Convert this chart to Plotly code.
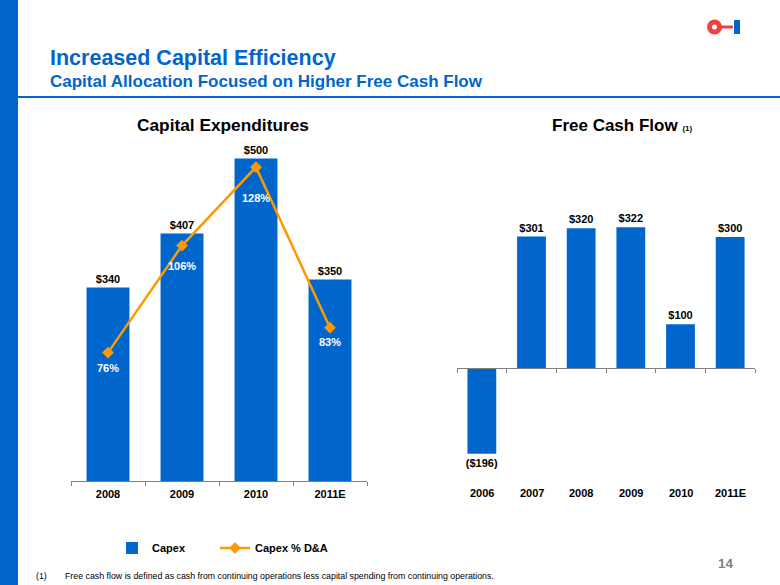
import plotly.graph_objects as go

W, H = 780, 585

# ---- data ----
capex_years = ["2008", "2009", "2010", "2011E"]
capex_values = [340, 407, 500, 350]
capex_pct_da = [76, 106, 128, 83]

fcf_years = ["2006", "2007", "2008", "2009", "2010", "2011E"]
fcf_values = [-196, 301, 320, 322, 100, 300]

# label offsets (style only) for the % labels below the line markers, in px
pct_label_shift = [-15, -20, -31, -14]

BLUE = "#0066CC"
ORANGE = "#FF9900"
FONT = "Liberation Sans, Arial, sans-serif"


def px_x(p):
    return p / W


def px_y(p):
    return 1 - p / H


def money(v):
    return f"(${abs(v)})" if v < 0 else f"${v}"


fig = go.Figure()

fig.add_trace(go.Bar(
    x=capex_years, y=capex_values, name="Capex",
    marker=dict(color=BLUE, line=dict(width=0)),
    text=[money(v) for v in capex_values], textposition="outside",
    constraintext="none",
    textfont=dict(family=FONT, size=11, color="black", weight="bold"),
    cliponaxis=False, xaxis="x", yaxis="y", legendwidth=58,
))
fig.add_trace(go.Scatter(
    x=capex_years, y=capex_pct_da, name="Capex % D&A",
    mode="lines+markers",
    line=dict(color=ORANGE, width=2.5),
    marker=dict(symbol="diamond", size=9, color=ORANGE),
    cliponaxis=False, xaxis="x", yaxis="y3", legendwidth=90,
))
fig.add_trace(go.Bar(
    x=fcf_years, y=fcf_values, name="Free Cash Flow", showlegend=False,
    marker=dict(color=BLUE, line=dict(width=0)),
    text=[money(v) for v in fcf_values], textposition="outside",
    constraintext="none",
    textfont=dict(family=FONT, size=11, color="black", weight="bold"),
    cliponaxis=False, xaxis="x2", yaxis="y2",
))

left_dom_y = [px_y(481), px_y(78)]
right_dom_y = [px_y(470), px_y(150)]

fig.update_layout(
    width=W, height=H,
    margin=dict(l=0, r=0, t=0, b=0),
    paper_bgcolor="white", plot_bgcolor="rgba(0,0,0,0)",
    font=dict(family=FONT, color="black"),
    bargap=0.42,
    xaxis=dict(type="category", domain=[px_x(71), px_x(367)], anchor="y",
               showline=True, linecolor="#808080", linewidth=1,
               ticks="outside", tickson="boundaries", ticklen=4, tickcolor="#808080",
               ticklabelstandoff=3,
               tickfont=dict(family=FONT, size=11, color="black", weight="bold"),
               showgrid=False, fixedrange=True),
    yaxis=dict(domain=left_dom_y, range=[100, 600], visible=False, showgrid=False),
    yaxis3=dict(domain=left_dom_y, range=[40, 153], overlaying="y", visible=False,
                showgrid=False),
    xaxis2=dict(type="category", domain=[px_x(457), px_x(755)], anchor="free",
                position=px_y(368),
                showline=True, linecolor="#808080", linewidth=1,
                ticks="outside", tickson="boundaries", ticklen=4, tickcolor="#808080",
                showticklabels=False, showgrid=False),
    yaxis2=dict(domain=right_dom_y, range=[-233.4, 499], anchor="x2", visible=False,
                showgrid=False, zeroline=False),
    showlegend=True,
    legend=dict(orientation="h", x=px_x(112), y=px_y(548), yanchor="middle",
                xanchor="left", bgcolor="rgba(0,0,0,0)",
                font=dict(family=FONT, size=11, color="black", weight="bold"),
                traceorder="normal"),
)

annotations = []
# right chart category labels at the bottom (x = category serial number)
for i, yr in enumerate(fcf_years):
    annotations.append(dict(x=i, xref="x2", y=px_y(493), yref="paper", text=yr,
                            showarrow=False, yanchor="middle",
                            font=dict(family=FONT, size=11, color="black", weight="bold")))
# % labels under the line markers
for i, (v, sh) in enumerate(zip(capex_pct_da, pct_label_shift)):
    annotations.append(dict(x=i, xref="x", y=v, yref="y3", text=f"{v}%",
                            showarrow=False, yanchor="middle", yshift=sh,
                            font=dict(family=FONT, size=11, color="white", weight="bold")))

annotations += [
    dict(x=px_x(48), y=px_y(58), xref="paper", yref="paper", xanchor="left",
         yanchor="middle", showarrow=False, text="Increased Capital Efficiency",
         font=dict(family=FONT, size=21.5, color=BLUE, weight="bold")),
    dict(x=px_x(48), y=px_y(82), xref="paper", yref="paper", xanchor="left",
         yanchor="middle", showarrow=False,
         text="Capital Allocation Focused on Higher Free Cash Flow",
         font=dict(family=FONT, size=17, color=BLUE, weight="bold")),
    dict(x=px_x(223), y=px_y(125), xref="paper", yref="paper", xanchor="center",
         yanchor="middle", showarrow=False, text="Capital Expenditures",
         font=dict(family=FONT, size=17.3, color="black", weight="bold")),
    dict(x=px_x(550), y=px_y(125), xref="paper", yref="paper", xanchor="left",
         yanchor="middle", showarrow=False,
         text="Free Cash Flow <span style='font-size:8px'>(1)</span>",
         font=dict(family=FONT, size=17, color="black", weight="bold")),
    dict(x=px_x(34), y=px_y(576), xref="paper", yref="paper", xanchor="left",
         yanchor="middle", showarrow=False, text="(1)",
         font=dict(family=FONT, size=8.8, color="black")),
    dict(x=px_x(63), y=px_y(576), xref="paper", yref="paper", xanchor="left",
         yanchor="middle", showarrow=False,
         text="Free cash flow is defined as cash from continuing operations less capital spending from continuing operations.",
         font=dict(family=FONT, size=8.8, color="black")),
    dict(x=px_x(726), y=px_y(563), xref="paper", yref="paper", xanchor="center",
         yanchor="middle", showarrow=False, text="14",
         font=dict(family=FONT, size=13.5, color="#808080", weight="bold")),
]
fig.update_layout(annotations=annotations)

shapes = [
    # left stripe
    dict(type="rect", xref="paper", yref="paper", x0=0, x1=px_x(18), y0=0, y1=1,
         fillcolor=BLUE, line=dict(width=0), layer="below"),
    # header rule
    dict(type="line", xref="paper", yref="paper", x0=px_x(18), x1=1,
         y0=px_y(97), y1=px_y(97), line=dict(color=BLUE, width=2)),
    # logo: red ring, red dash, blue bar
    dict(type="circle", xref="paper", yref="paper", x0=px_x(707), x1=px_x(722),
         y0=px_y(34.5), y1=px_y(19.5), fillcolor="#F04040", line=dict(width=0)),
    dict(type="circle", xref="paper", yref="paper", x0=px_x(712), x1=px_x(717),
         y0=px_y(29.5), y1=px_y(24.5), fillcolor="white", line=dict(width=0)),
    dict(type="rect", xref="paper", yref="paper", x0=px_x(721), x1=px_x(733),
         y0=px_y(28.5), y1=px_y(25.5), fillcolor="#F04040", line=dict(width=0)),
    dict(type="rect", xref="paper", yref="paper", x0=px_x(734), x1=px_x(740),
         y0=px_y(34), y1=px_y(20), fillcolor=BLUE, line=dict(width=0)),
]
fig.update_layout(shapes=shapes)

fig.write_html(
    "out.html",
    config={"displayModeBar": False},
    post_script="document.body.style.margin='0';document.body.style.overflow='hidden';",
)
